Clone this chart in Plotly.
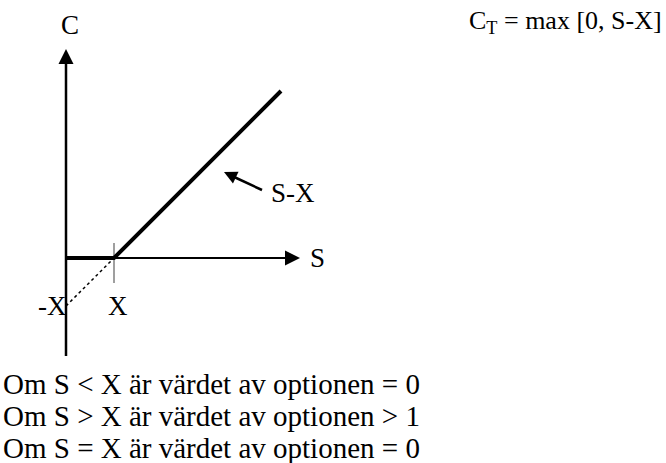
import math
import plotly.graph_objects as go

# Payoff diagram of a call option at expiry: C_T = max[0, S - X]
STRIKE = 48                      # X on the S axis
payoff_s = [0, 48, 215]          # underlying price S
payoff_c = [0, 0, 167]           # option value C at those prices

# guide from (0, -X) up to (X, 0): the S - X line extended below zero
guide_s = [0, 48]
guide_c = [-48, 0]

# axes extents (chart units)
s_axis = [0, 234]
c_axis = [-98, 209]
tick_c = [15, -25]

# pointer to the rising branch
pointer_s = [196, 158]
pointer_c = [68, 86]

text_lines = [
    "Om S &lt; X är värdet av optionen = 0",
    "Om S &gt; X är värdet av optionen &gt; 1",
    "Om S = X är värdet av optionen = 0",
]
formula = "C<sub>T</sub> = max [0, S-X]"

W, H = 666, 463
FONT = "Liberation Serif, Times New Roman, serif"


def head(tip, tail, length, half):
    """Filled triangle at `tip`, pointing away from `tail`."""
    dx, dy = tip[0] - tail[0], tip[1] - tail[1]
    n = math.hypot(dx, dy)
    ux, uy = dx / n, dy / n
    bx, by = tip[0] - ux * length, tip[1] - uy * length
    px, py = -uy, ux
    xs = [tip[0], bx + px * half, bx - px * half, tip[0]]
    ys = [tip[1], by + py * half, by - py * half, tip[1]]
    return go.Scatter(x=xs, y=ys, mode="lines", fill="toself",
                      fillcolor="black", line=dict(width=0, color="black"),
                      hoverinfo="skip", showlegend=False)


fig = go.Figure()

# C axis
fig.add_trace(go.Scatter(x=[0, 0], y=[c_axis[0], c_axis[1] - 10], mode="lines",
                         line=dict(color="black", width=2.5), showlegend=False))
fig.add_trace(head((0, c_axis[1]), (0, 0), 15, 7.5))
# S axis
fig.add_trace(go.Scatter(x=[s_axis[0], s_axis[1] - 10], y=[0, 0], mode="lines",
                         line=dict(color="black", width=2), showlegend=False))
fig.add_trace(head((s_axis[1], 0), (0, 0), 15, 7.5))
# strike tick
fig.add_trace(go.Scatter(x=[STRIKE, STRIKE], y=tick_c, mode="lines",
                         line=dict(color="#7f7f7f", width=1.5), showlegend=False))
# dotted guide
fig.add_trace(go.Scatter(x=guide_s, y=guide_c, mode="lines",
                         line=dict(color="black", width=1.5, dash="dot"),
                         showlegend=False))
# payoff
fig.add_trace(go.Scatter(x=payoff_s, y=payoff_c, mode="lines",
                         line=dict(color="black", width=4), showlegend=False))
# pointer
fig.add_trace(go.Scatter(x=[pointer_s[0], pointer_s[1] + 8], y=[pointer_c[0], pointer_c[1] - 4],
                         mode="lines", line=dict(color="black", width=2.5),
                         showlegend=False))
fig.add_trace(head((pointer_s[1], pointer_c[1]), (pointer_s[0], pointer_c[0]), 13, 6.5))

label_font = dict(family=FONT, size=27, color="black")
labels = [
    ("C", 4, 233),
    ("S", 251, 0),
    ("X", 52, -48),
    ("-X", -14, -48),
    ("S-X", 227, 65),
]
for txt, sx, cy in labels:
    fig.add_annotation(x=sx, y=cy, xref="x", yref="y", text=txt, showarrow=False,
                       font=label_font, xanchor="center", yanchor="middle")

fig.add_annotation(x=1 - 2 / W, y=1 - 22 / H, xref="paper", yref="paper", text=formula,
                   showarrow=False, font=dict(family=FONT, size=26, color="black"),
                   xanchor="right", yanchor="middle")

body_font = dict(family=FONT, size=29, color="black")
for i, line in enumerate(text_lines):
    fig.add_annotation(x=1 / W, y=1 - (384 + 32 * i) / H, xref="paper", yref="paper",
                       text=line, showarrow=False, font=body_font,
                       xanchor="left", yanchor="middle")

fig.update_layout(
    width=W, height=H, margin=dict(l=0, r=0, t=0, b=0),
    paper_bgcolor="white", plot_bgcolor="white", showlegend=False,
    xaxis=dict(range=[-66, W - 66], visible=False, fixedrange=True),
    yaxis=dict(range=[258 - H, 258], visible=False, fixedrange=True),
)

fig.write_html("out.html")
